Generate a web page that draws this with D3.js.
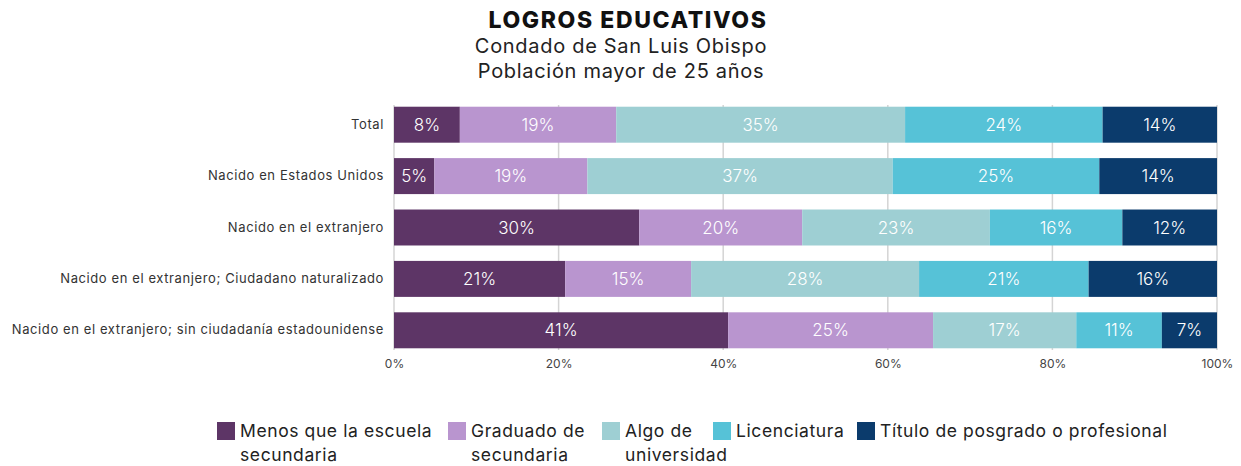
<!DOCTYPE html>
<html>
<head>
<meta charset="utf-8">
<script src="https://cdn.jsdelivr.net/npm/d3@7"></script>
<style>
  body { margin: 0; background: #fff; }
  svg { font-family: "Inter", "Open Sans", sans-serif; }
</style>
</head>
<body>
<svg width="1241" height="466"></svg>
<script>
// rows of the chart
const categories = [
    'Total',
    'Nacido en Estados Unidos',
    'Nacido en el extranjero',
    'Nacido en el extranjero; Ciudadano naturalizado',
    'Nacido en el extranjero; sin ciudadanía estadounidense'
];

const series = [
    'Menos que la escuela secundaria',
    'Graduado de secundaria',
    'Algo de universidad',
    'Licenciatura',
    'Título de posgrado o profesional'
];

// legend text split over lines
const legendLines = [
    ['Menos que la escuela', 'secundaria'],
    ['Graduado de', 'secundaria'],
    ['Algo de', 'universidad'],
    ['Licenciatura'],
    ['Título de posgrado o profesional']
];

// bar widths and printed labels, per row
const menos = [8.0, 4.9, 29.8, 20.8, 40.6];
const graduado = [19.0, 18.6, 19.8, 15.3, 24.9];
const algo = [35.1, 37.1, 22.8, 27.7, 17.4];
const licenciatura = [24.0, 25.1, 16.1, 20.6, 10.4];
const posgrado = [13.9, 14.3, 11.5, 15.6, 6.7];

const labelMenos = [8, 5, 30, 21, 41];
const labelGraduado = [19, 19, 20, 15, 25];
const labelAlgo = [35, 37, 23, 28, 17];
const labelLicenciatura = [24, 25, 16, 21, 11];
const labelPosgrado = [14, 14, 12, 16, 7];

const xTicks = [0, 20, 40, 60, 80, 100];

const colors = ['#5d3566', '#b995cf', '#9ecfd3', '#56c2d7', '#0b3b6c'];

const values = [menos, graduado, algo, licenciatura, posgrado];
const labels = [labelMenos, labelGraduado, labelAlgo, labelLicenciatura, labelPosgrado];

const table = categories.map(function(c, i) {
    const row = { cat: c };
    series.forEach(function(s, j) { row[s] = values[j][i]; row['lab' + j] = labels[j][i]; });
    return row;
});

const svg = d3.select('svg');
const margin = { left: 394, right: 24, top: 107, bottom: 118 };
const width = 1241;
const height = 466;

const x = d3.scaleLinear().domain([0, 100]).range([margin.left, width - margin.right]);
const y = d3.scaleBand().domain(categories).range([margin.top - 8, 356]).paddingInner(0.3).paddingOuter(0.15);

// title
const title = svg.append('g').attr('text-anchor', 'middle');
title.append('text').attr('x', 628).attr('y', 28)
    .attr('font-size', 23).attr('font-weight', 800).attr('letter-spacing', 1.6)
    .attr('fill', '#111').text('LOGROS EDUCATIVOS');
title.append('text').attr('x', 621).attr('y', 53)
    .attr('font-size', 20).attr('letter-spacing', 0.7).attr('fill', '#222').text('Condado de San Luis Obispo');
title.append('text').attr('x', 621).attr('y', 78)
    .attr('font-size', 20).attr('letter-spacing', 0.7).attr('fill', '#222').text('Población mayor de 25 años');

// grid
svg.append('g')
    .selectAll('line')
    .data(xTicks)
    .enter().append('line')
        .attr('x1', function(d) { return x(d); })
        .attr('x2', function(d) { return x(d); })
        .attr('y1', margin.top - 2)
        .attr('y2', 350)
        .attr('stroke', '#d4d4d4')
        .attr('stroke-width', 1.5);

// x axis
const xAxis = svg.append('g')
    .attr('transform', 'translate(0,352)')
    .call(d3.axisBottom(x).tickValues(xTicks).tickSize(0).tickPadding(7).tickFormat(function(d) { return d + '%'; }));
xAxis.select('.domain').remove();
xAxis.selectAll('text').attr('font-size', 12).attr('fill', '#444').attr('font-family', 'Inter, sans-serif');

// y axis
const yAxis = svg.append('g')
    .attr('transform', 'translate(' + (margin.left - 10) + ',0)')
    .call(d3.axisLeft(y).tickSize(0).tickPadding(0));
yAxis.select('.domain').remove();
yAxis.selectAll('text').attr('font-size', 13).attr('letter-spacing', 0.6)
    .attr('fill', '#333').attr('font-family', 'Inter, sans-serif');

// stacked bars
const stacked = d3.stack().keys(series)(table);

const layer = svg.append('g')
    .selectAll('g')
    .data(stacked)
    .enter().append('g')
        .attr('fill', function(d, i) { return colors[i]; });

layer.selectAll('rect')
    .data(function(d) { return d; })
    .enter().append('rect')
        .attr('x', function(d) { return x(d[0]); })
        .attr('y', function(d) { return y(d.data.cat); })
        .attr('width', function(d) { return x(d[1]) - x(d[0]); })
        .attr('height', y.bandwidth());

layer.selectAll('text')
    .data(function(d, i) { return d.map(function(p) { return { p: p, i: i }; }); })
    .enter().append('text')
        .attr('x', function(d) { return (x(d.p[0]) + x(d.p[1])) / 2; })
        .attr('y', function(d) { return y(d.p.data.cat) + y.bandwidth() / 2; })
        .attr('dy', '0.36em')
        .attr('text-anchor', 'middle')
        .attr('font-size', 17)
        .attr('font-weight', 300)
        .attr('fill', '#fff')
        .text(function(d) { return d.p.data['lab' + d.i] + '%'; });

// legend
const legendX = [217, 448, 602, 713, 857];
const legend = svg.append('g')
    .selectAll('g')
    .data(series)
    .enter().append('g')
        .attr('transform', function(d, i) { return 'translate(' + legendX[i] + ',422)'; });

legend.append('rect')
    .attr('width', 18).attr('height', 18)
    .attr('fill', function(d, i) { return colors[i]; });

legend.append('text')
    .attr('x', 23)
    .attr('y', 15)
    .attr('font-size', 17.5)
    .attr('letter-spacing', 0.6)
    .attr('fill', '#222')
    .selectAll('tspan')
    .data(function(d, i) { return legendLines[i]; })
    .enter().append('tspan')
        .attr('x', 23)
        .attr('dy', function(d, k) { return k === 0 ? 0 : 24; })
        .text(function(d) { return d; });
</script>
</body>
</html>
